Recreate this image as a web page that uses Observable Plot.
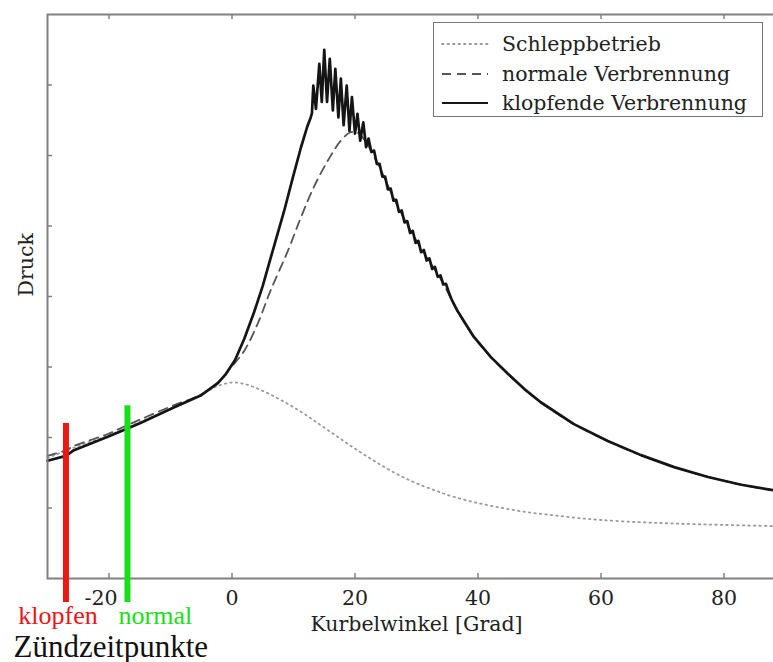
<!DOCTYPE html>
<html><head><meta charset="utf-8">
<script src="https://cdn.jsdelivr.net/npm/d3@7"></script>
<script src="https://cdn.jsdelivr.net/npm/@observablehq/plot@0.6"></script>
<style>
html,body{margin:0;padding:0;background:#fff;overflow:hidden}
#chart{position:relative;width:773px;height:662px;overflow:hidden}
#chart > svg{max-width:none !important;height:662px !important;display:block}
#legend{position:absolute;left:433px;top:22px;width:330px;height:95px;border:1.5px solid #777;box-sizing:border-box;background:#fff;font-family:"DejaVu Serif";font-size:20.5px;color:#222}
.row{position:absolute;left:6px;height:28px;display:flex;align-items:center;white-space:nowrap}
.row svg{width:50px;height:10px;margin-right:12px;overflow:visible}
</style>
</head><body>
<div id="chart"></div>
<script>
// ---- data ----
const xTicks = [-20, 0, 20, 40, 60, 80];
const yTicks = [1, 2, 3, 4, 5, 6, 7];

const seriesNames = ["Schleppbetrieb", "normale Verbrennung", "klopfende Verbrennung"];

const angleSchlepp = [-30, -25, -20, -15, -10, -6, -4, -2, 0, 2, 4, 6, 8, 10, 12, 14, 16, 18, 20, 22, 24, 26, 28, 30, 33, 36, 40, 44, 48, 52, 56, 60, 66, 72, 80, 90];
const druckSchlepp = [1.71, 1.88, 2.03, 2.22, 2.40, 2.56, 2.66, 2.74, 2.78, 2.76, 2.70, 2.62, 2.53, 2.43, 2.32, 2.20, 2.08, 1.96, 1.84, 1.73, 1.62, 1.52, 1.43, 1.35, 1.25, 1.16, 1.07, 1.00, 0.94, 0.90, 0.86, 0.83, 0.80, 0.78, 0.76, 0.74];

const angleNormal = [-30, -27, -25.7, -20.2, -16.9, -14.8, -9.4, -5, -2.3, -0.2, 2, 4.2, 6.3, 9.1, 11.2, 13.3, 15.6, 17.7, 19.3, 20.5, 22, 24, 26, 28, 30, 32, 34, 36.7, 39.3, 42.1, 44.9, 47.5, 50.2, 55.6, 61.1, 66.5, 71.9, 77.4, 82.8, 88.1, 90];
const druckNormal = [1.74, 1.82, 1.88, 2.05, 2.18, 2.26, 2.46, 2.61, 2.78, 2.99, 3.23, 3.62, 4.09, 4.65, 5.12, 5.55, 5.93, 6.21, 6.33, 6.32, 6.16, 5.83, 5.45, 5.10, 4.79, 4.51, 4.24, 3.79, 3.43, 3.14, 2.90, 2.69, 2.50, 2.19, 1.95, 1.75, 1.58, 1.44, 1.33, 1.25, 1.23];

const angleKlopf = [-30, -27, -25.7, -20.2, -16.9, -14.8, -9.4, -5, -2.3, -1, 0.5, 2, 3.6, 5, 6.3, 8.5, 9.9, 11.2, 12.2, 12.8, 13.0, 13.22, 13.65, 14.2, 14.6, 15.0, 15.45, 15.9, 16.4, 16.8, 17.3, 17.7, 18.15, 18.65, 19.1, 19.5, 20.0, 20.4, 20.85, 21.35, 21.8, 22.2, 22.65, 23.1, 23.55, 24.0, 24.45, 24.9, 25.35, 25.8, 26.25, 26.7, 27.15, 27.6, 28.05, 28.5, 28.95, 29.4, 29.85, 30.3, 30.75, 31.2, 31.65, 32.1, 32.55, 33.0, 33.45, 33.9, 34.35, 34.8, 35.25, 35.7, 36.7, 39.3, 42.1, 44.9, 47.5, 50.2, 55.6, 61.1, 66.5, 71.9, 77.4, 82.8, 88.1, 90];
const druckKlopf = [1.67, 1.74, 1.82, 2.01, 2.13, 2.21, 2.43, 2.60, 2.77, 2.90, 3.10, 3.40, 3.78, 4.15, 4.55, 5.22, 5.69, 6.11, 6.40, 6.54, 6.60, 6.99, 6.66, 7.30, 6.76, 7.50, 6.76, 7.37, 6.64, 7.23, 6.54, 7.09, 6.43, 6.99, 6.35, 6.83, 6.31, 6.59, 6.21, 6.47, 6.12, 6.24, 6.05, 6.07, 5.88, 5.88, 5.70, 5.70, 5.52, 5.53, 5.36, 5.37, 5.20, 5.22, 5.05, 5.07, 4.90, 4.93, 4.76, 4.79, 4.63, 4.66, 4.51, 4.54, 4.39, 4.42, 4.28, 4.30, 4.17, 4.18, 4.06, 3.96, 3.79, 3.43, 3.14, 2.90, 2.69, 2.50, 2.19, 1.95, 1.75, 1.58, 1.44, 1.33, 1.25, 1.23];

const zuendWinkel = [-27, -17];
const zuendOben = [2.20, 2.45];
const zuendLabel = ["klopfen", "normal"];
const zuendFarbe = ["#ee1515", "#18e018"];

// ---- layout / style ----
const W = 786, H = 662, mL = 47, mR = 1, mT = 14, mB = 84;
const plotW = W - mL - mR, plotH = H - mT - mB;
const axisGray = "#808080";
const styles = [
  {stroke: "#9a9a9a", strokeWidth: 1.8, strokeDasharray: "1.5,4", strokeLinecap: "round"},
  {stroke: "#555", strokeWidth: 1.8, strokeDasharray: "9,6"},
  {stroke: "#151515", strokeWidth: 2.7}
];
const fmt = d => d < 0 ? "-" + Math.abs(d) : String(d);

const toRows = (A, P) => A.map((a, i) => ({a, p: P[i]}));
const schlepp = toRows(angleSchlepp, druckSchlepp);
const normal = toRows(angleNormal, druckNormal);
const klopf = toRows(angleKlopf, druckKlopf);
const zuend = zuendWinkel.map((a, i) => ({a, top: zuendOben[i], label: zuendLabel[i], color: zuendFarbe[i]}));

const chart = Plot.plot({
  width: W, height: H,
  marginLeft: mL, marginRight: mR, marginTop: mT, marginBottom: mB,
  x: {domain: [-30, 90], axis: null},
  y: {domain: [0, 8], axis: null},
  style: {fontFamily: "DejaVu Serif", fontSize: "20.5px", color: "#222", background: "#fff", overflow: "visible"},
  marks: [
    Plot.line(schlepp, {x: "a", y: "p", ...styles[0], curve: "catmull-rom"}),
    Plot.line(normal, {x: "a", y: "p", ...styles[1], curve: "catmull-rom"}),
    Plot.line(klopf, {x: "a", y: "p", ...styles[2], strokeLinejoin: "round"}),
    Plot.frame({stroke: axisGray, strokeWidth: 2}),
    Plot.ruleX(xTicks, {x: d => d, insetTop: plotH - 5, stroke: axisGray, strokeWidth: 1.5}),
    Plot.ruleX(xTicks, {x: d => d, insetBottom: plotH - 5, stroke: axisGray, strokeWidth: 1.5}),
    Plot.ruleY(yTicks, {y: d => d, insetRight: plotW - 5, stroke: axisGray, strokeWidth: 1.5}),
    Plot.axisX(xTicks.filter(d => d < 0), {tickSize: 0, tickPadding: 12, label: null, tickFormat: fmt, fill: "#222", dx: -8}),
    Plot.axisX(xTicks.filter(d => d >= 0), {tickSize: 0, tickPadding: 12, label: null, tickFormat: fmt, fill: "#222"}),
    Plot.text(["Kurbelwinkel [Grad]"], {text: d => d, frameAnchor: "bottom", lineAnchor: "bottom", dy: 52, fill: "#222"}),
    Plot.text(["Druck"], {text: d => d, frameAnchor: "left", rotate: -90, dx: -21, fill: "#222"}),
    Plot.ruleX(zuend, {x: "a", y1: "top", y2: 0, stroke: d => d.color, strokeWidth: 6, insetBottom: -24}),
    Plot.text([zuend[0]], {x: "a", text: "label", fill: d => d.color, frameAnchor: "bottom", lineAnchor: "bottom", dy: 45, dx: -8, fontFamily: "Liberation Serif", fontSize: 26}),
    Plot.text([zuend[1]], {x: "a", text: "label", fill: d => d.color, frameAnchor: "bottom", lineAnchor: "bottom", dy: 45, dx: 28, fontFamily: "Liberation Serif", fontSize: 26}),
    Plot.text(["Zündzeitpunkte"], {text: d => d, frameAnchor: "bottom-left", textAnchor: "start", lineAnchor: "bottom", dx: -34, dy: 78, fontFamily: "Liberation Serif", fontSize: 31, fill: "#111"})
  ]
});

const root = document.getElementById("chart");
root.appendChild(chart);

// legend
const legend = document.createElement("div");
legend.id = "legend";
const rowTops = [7, 37, 66];
seriesNames.forEach((name, i) => {
  const row = document.createElement("div");
  row.className = "row";
  row.style.top = rowTops[i] + "px";
  const s = styles[i];
  row.innerHTML = `<svg viewBox="0 0 50 10"><line x1="2" y1="5" x2="48" y2="5" stroke="${s.stroke}" stroke-width="${Math.min(s.strokeWidth, 2)}" ${s.strokeDasharray ? `stroke-dasharray="${s.strokeDasharray}"` : ""} ${s.strokeLinecap ? `stroke-linecap="${s.strokeLinecap}"` : ""}/></svg><span>${name}</span>`;
  legend.appendChild(row);
});
root.appendChild(legend);
</script>
</body></html>
